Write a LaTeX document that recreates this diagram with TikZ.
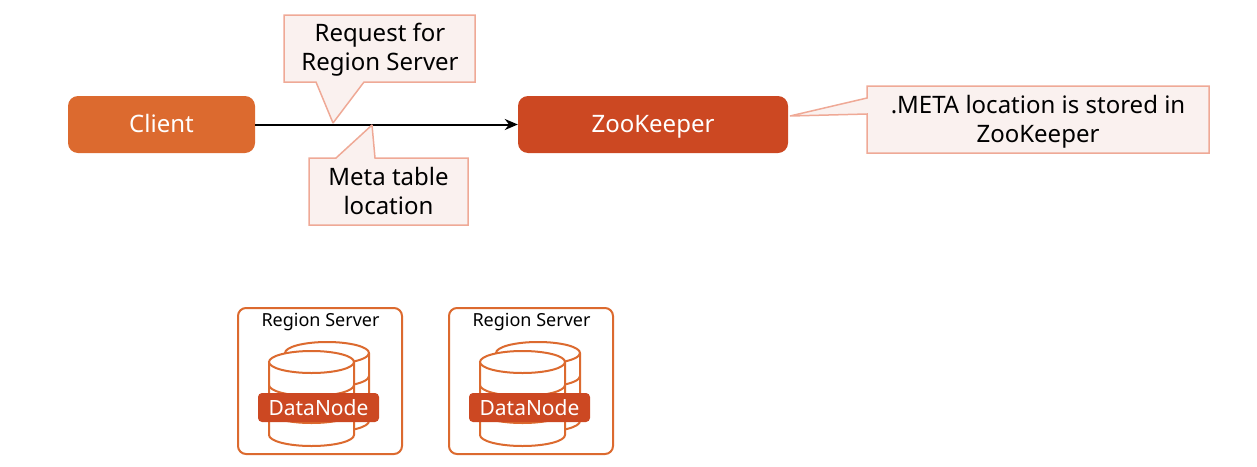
\documentclass[tikz,border=0pt]{standalone}
\usepackage{fontspec}
\usetikzlibrary{arrows.meta}
\setmainfont{Noto Sans}
\definecolor{clientorange}{HTML}{DC6A2F}
\definecolor{keeperred}{HTML}{CC4822}
\definecolor{noteline}{HTML}{EFA996}
\definecolor{notefill}{HTML}{FAF1EF}
\begin{document}
\begin{tikzpicture}[x=1pt,y=-1pt,
    arrow/.style = {line width=2pt,-{Stealth[length=13pt,width=11pt]}},
    service/.style = {rounded corners=10pt,text=white,font=\fontsize{24}{28}\selectfont,inner sep=0pt,text height=19pt,text depth=3pt},
    note/.style = {draw=noteline,fill=notefill,line width=1.5pt,miter limit=2},
    notetext/.style = {align=center,font=\fontsize{24}{29}\selectfont,inner sep=0pt},
    cyl/.style = {draw=clientorange,line width=2pt,fill=white}]
    \useasboundingbox (0,0) rectangle (1257,466);

    % Services
    \node [service,fill=clientorange,minimum width=187pt,minimum height=57pt] (client) at (161.5,124.5) {Client};
    \node [service,fill=keeperred,minimum width=270pt,minimum height=57pt] (zookeeper) at (653,124.5) {ZooKeeper};
    \draw[arrow] (client) -- (zookeeper);

    % Notes
    \draw[note] (284,15) -- (475,15) -- (475,82) -- (364,82) -- (333,123) -- (316,82) -- (284,82) -- cycle;
    \node [notetext] (request) at (380,49.5) {Request for\\Region Server};

    \draw[note] (309,158) -- (336,158) -- (372,125) -- (375,158) -- (468,158) -- (468,225) -- (309,225) -- cycle;
    \node [notetext] (metatable) at (388.5,191) {Meta table\\location};

    \draw[note] (867,86) -- (1209,86) -- (1209,153) -- (867,153) -- (867,114) -- (790,116) -- (867,98) -- cycle;
    \node [notetext] (metastored) at (1038,121.5) {.META location is stored in\\ZooKeeper};

    % Region servers
    \foreach \dx in {0,211} {
        \begin{scope}[xshift=\dx pt]
            \draw[cyl,rounded corners=8pt] (238,308) rectangle (402,454);
            \node [inner sep=0pt,font=\fontsize{18}{20}\selectfont] (server\dx) at (320.5,322) {Region Server};

            % back cylinder
            \draw[cyl] (285,353) arc (180:360:42 and 11) -- (369,421) arc (0:180:42 and 11) -- cycle;
            \draw[cyl] (369,353) arc (0:60:42 and 11);
            \draw[cyl] (369,376) arc (0:60:42 and 11);

            % front cylinder
            \draw[cyl] (269,362) -- (269,435) arc (180:0:42.5 and 11) -- (354,362);
            \draw[cyl] (311.5,362) ellipse (42.5 and 11);
            \draw[cyl] (269,385) arc (180:0:42.5 and 11);
            \draw[cyl] (269,412) arc (180:0:42.5 and 11);

            \node [rounded corners=4pt,fill=keeperred,text=white,inner sep=0pt,font=\fontsize{21}{24}\selectfont,minimum width=121pt,minimum height=29pt] (datanode\dx) at (318.5,407.5) {DataNode};
        \end{scope}
    }
\end{tikzpicture}
\end{document}
